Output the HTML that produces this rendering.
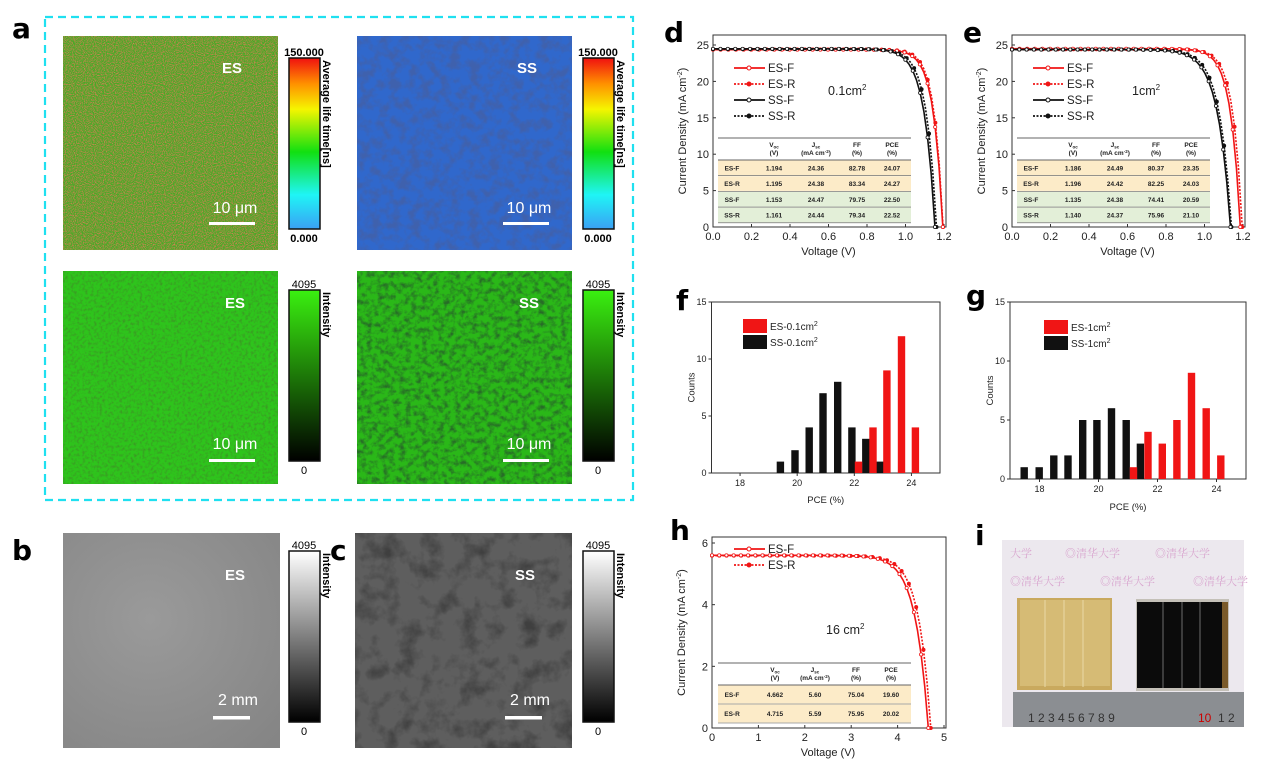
<!DOCTYPE html>
<html><head><meta charset="utf-8"><style>
html,body{margin:0;padding:0;background:#fff}
svg{display:block;font-family:"Liberation Sans",sans-serif}
.lbl{font-family:"DejaVu Sans","Liberation Sans",sans-serif;font-weight:bold;font-size:28px}
.t{font-size:11px;fill:#222}
.tb{font-size:6.5px;font-weight:bold;fill:#222}
</style></head><body>
<svg id="s" width="1271" height="771" viewBox="0 0 1271 771" xmlns="http://www.w3.org/2000/svg">
<defs>
<filter id="noiseR" x="0" y="0" width="1" height="1">
<feTurbulence type="fractalNoise" baseFrequency="0.9" numOctaves="2" seed="5" result="n"/>
<feColorMatrix in="n" type="matrix" values="0 0 0 0 0.75  0 0 0 0 0.2  0 0 0 0 0.1  2.6 0 0 0 -1.05"/>
</filter>
<filter id="noiseB" x="0" y="0" width="1" height="1">
<feTurbulence type="fractalNoise" baseFrequency="0.1" numOctaves="3" seed="7" result="n"/>
<feColorMatrix in="n" type="matrix" values="0 0 0 0 0.05  0 0 0 0 0.12  0 0 0 0 0.42  3.2 0 0 0 -1.3"/>
</filter>
<filter id="noiseG" x="0" y="0" width="1" height="1">
<feTurbulence type="fractalNoise" baseFrequency="0.35" numOctaves="2" seed="9" result="n"/>
<feColorMatrix in="n" type="matrix" values="0 0 0 0 0.05  0 0 0 0 0.25  0 0 0 0 0.02  1.8 0 0 0 -0.8"/>
</filter>
<filter id="noiseG2" x="0" y="0" width="1" height="1">
<feTurbulence type="fractalNoise" baseFrequency="0.18" numOctaves="3" seed="11" result="n"/>
<feColorMatrix in="n" type="matrix" values="0 0 0 0 0.02  0 0 0 0 0.15  0 0 0 0 0.02  2.4 0 0 0 -1.0"/>
</filter>
<filter id="noiseK" x="0" y="0" width="1" height="1">
<feTurbulence type="fractalNoise" baseFrequency="0.05" numOctaves="4" seed="13" result="n"/>
<feColorMatrix in="n" type="matrix" values="0 0 0 0 0.05  0 0 0 0 0.05  0 0 0 0 0.05  2.6 0 0 0 -1.2"/>
</filter>
<linearGradient id="jet" x1="0" y1="1" x2="0" y2="0">
<stop offset="0" stop-color="#3aa0f5"/><stop offset="0.2" stop-color="#1ff5f5"/><stop offset="0.45" stop-color="#11e011"/><stop offset="0.7" stop-color="#f5f500"/><stop offset="0.85" stop-color="#ff9000"/><stop offset="1" stop-color="#f01010"/>
</linearGradient>
<linearGradient id="grn" x1="0" y1="1" x2="0" y2="0"><stop offset="0" stop-color="#000"/><stop offset="1" stop-color="#3af010"/></linearGradient>
<linearGradient id="gry" x1="0" y1="1" x2="0" y2="0"><stop offset="0" stop-color="#000"/><stop offset="1" stop-color="#fff"/></linearGradient>
<radialGradient id="bg" cx="0.4" cy="0.4" r="0.8"><stop offset="0" stop-color="#9a9a9a"/><stop offset="1" stop-color="#858585"/></radialGradient>
</defs>

<text x="12" y="38" class="lbl">a</text>
<rect x="45" y="17" width="588" height="483" fill="none" stroke="#1fe0f0" stroke-width="2.2" stroke-dasharray="8,5"/>
<rect x="63" y="36" width="215" height="214" fill="#48aa26"/>
<rect x="63" y="36" width="215" height="214" filter="url(#noiseR)"/>
<text x="222" y="73" fill="#fff" font-weight="bold" font-size="15">ES</text>
<text x="235" y="213" fill="#fff" font-size="16" text-anchor="middle">10 μm</text>
<rect x="209" y="222" width="46" height="3" fill="#fff"/>
<rect x="357" y="36" width="215" height="214" fill="#3068cc"/>
<rect x="357" y="36" width="215" height="214" filter="url(#noiseB)"/>
<text x="517" y="73" fill="#fff" font-weight="bold" font-size="15">SS</text>
<text x="529" y="213" fill="#fff" font-size="16" text-anchor="middle">10 μm</text>
<rect x="503" y="222" width="46" height="3" fill="#fff"/>
<rect x="63" y="271" width="215" height="213" fill="#2ec41c"/>
<rect x="63" y="271" width="215" height="213" filter="url(#noiseG)"/>
<text x="225" y="308" fill="#fff" font-weight="bold" font-size="15">ES</text>
<text x="235" y="449" fill="#fff" font-size="16" text-anchor="middle">10 μm</text>
<rect x="209" y="459" width="46" height="3" fill="#fff"/>
<rect x="357" y="271" width="215" height="213" fill="#2ab818"/>
<rect x="357" y="271" width="215" height="213" filter="url(#noiseG2)"/>
<text x="519" y="308" fill="#fff" font-weight="bold" font-size="15">SS</text>
<text x="529" y="449" fill="#fff" font-size="16" text-anchor="middle">10 μm</text>
<rect x="503" y="459" width="46" height="3" fill="#fff"/>
<g id="cbars"></g>

<text x="12" y="560" class="lbl">b</text>
<rect x="63" y="533" width="217" height="215" fill="url(#bg)"/>
<text x="225" y="580" fill="#fff" font-weight="bold" font-size="15">ES</text>
<text x="238" y="705" fill="#fff" font-size="16" text-anchor="middle">2 mm</text>
<rect x="213" y="716" width="37" height="3.5" fill="#fff"/>
<text x="330" y="560" class="lbl">c</text>
<rect x="355" y="533" width="217" height="215" fill="#5e5e5e"/>
<rect x="355" y="533" width="217" height="215" filter="url(#noiseK)"/>
<text x="515" y="580" fill="#fff" font-weight="bold" font-size="15">SS</text>
<text x="530" y="705" fill="#fff" font-size="16" text-anchor="middle">2 mm</text>
<rect x="505" y="716" width="37" height="3.5" fill="#fff"/>

<text x="664" y="42" class="lbl">d</text>
<text x="963" y="42" class="lbl">e</text>
<text x="676" y="310" class="lbl">f</text>
<text x="966" y="305" class="lbl">g</text>
<text x="670" y="540" class="lbl">h</text>
<text x="975" y="545" class="lbl">i</text>

<g id="plots"></g>

<rect x="1002" y="540" width="242" height="187" fill="#ece8ee"/>
<g fill="#d9a6cf" font-size="11" font-family="'Noto Serif CJK SC',serif">
<text x="1010" y="557">大学</text><text x="1065" y="557">◎清华大学</text><text x="1155" y="557">◎清华大学</text>
<text x="1010" y="585">◎清华大学</text><text x="1100" y="585">◎清华大学</text><text x="1193" y="585">◎清华大学</text>
</g>
<rect x="1017" y="598" width="95" height="92" fill="#c9a95e"/>
<rect x="1020" y="600" width="90" height="86" fill="#d6bb75"/>
<g stroke="#e9d9a8" stroke-width="1"><line x1="1045" y1="600" x2="1045" y2="687"/><line x1="1064" y1="600" x2="1064" y2="687"/><line x1="1083" y1="600" x2="1083" y2="687"/></g>
<rect x="1136" y="599" width="93" height="92" fill="#c4c0b8"/>
<rect x="1137" y="602" width="85" height="86" fill="#0b0b0b"/>
<rect x="1222" y="602" width="6" height="86" fill="#7a5a2a"/>
<g stroke="#888" stroke-width="0.8"><line x1="1163" y1="602" x2="1163" y2="688"/><line x1="1182" y1="602" x2="1182" y2="688"/><line x1="1200" y1="602" x2="1200" y2="688"/></g>
<rect x="1013" y="692" width="231" height="35" fill="#8b8e92"/>
<g font-size="12" fill="#333"><text x="1028" y="722">1 2 3 4 5 6 7 8 9</text></g>
<text x="1198" y="722" font-size="12" fill="#c00">10</text><text x="1218" y="722" font-size="12" fill="#333">1 2</text>
</svg>
<script>
const NS="http://www.w3.org/2000/svg";
function el(p,tag,a,txt){const e=document.createElementNS(NS,tag);for(const k in a)e.setAttribute(k,a[k]);if(txt!==undefined)e.innerHTML=txt;p.appendChild(e);return e;}
const cb=document.getElementById('cbars');
function cbar(x,y,h,fill,top,bot,lab){
 el(cb,'rect',{x:x,y:y,width:31,height:h,fill:fill,stroke:'#111','stroke-width':1.5});
 el(cb,'text',{x:x+15,y:y-2,'font-size':11,'text-anchor':'middle','font-weight':top.length>5?'bold':'normal'},top);
 el(cb,'text',{x:x+15,y:y+h+13,'font-size':11,'text-anchor':'middle','font-weight':bot.length>1?'bold':'normal'},bot);
 el(cb,'text',{transform:`translate(${x+34},${y+2}) rotate(90)`,'font-size':11,'font-weight':'bold'},lab);
}
cbar(289,58,171,'url(#jet)','150.000','0.000','Average life time[ns]');
cbar(583,58,171,'url(#jet)','150.000','0.000','Average life time[ns]');
cbar(289,290,171,'url(#grn)','4095','0','Intensity');
cbar(583,290,171,'url(#grn)','4095','0','Intensity');
cbar(289,551,171,'url(#gry)','4095','0','Intensity');
cbar(583,551,171,'url(#gry)','4095','0','Intensity');

const P=document.getElementById('plots');
function frame(x0,y0,x1,y1){el(P,'rect',{x:x0,y:y0,width:x1-x0,height:y1-y0,fill:'none',stroke:'#333','stroke-width':1});}
function jv(o){
 const {X0,X1,Y0,Y1,xmax,ymax,top,xt,yt,curves}=o;
 frame(X0,top,X1+2,Y0);
 const sx=v=>X0+(v/xmax)*(X1-X0), sy=j=>Y0-(j/ymax)*(Y0-Y1);
 xt.forEach(v=>{el(P,'line',{x1:sx(v),x2:sx(v),y1:Y0,y2:Y0-3,stroke:'#333'});el(P,'text',{x:sx(v),y:Y0+13,'text-anchor':'middle',class:'t'},o.xf(v));});
 yt.forEach(v=>{el(P,'line',{x1:X0,x2:X0+3,y1:sy(v),y2:sy(v),stroke:'#333'});el(P,'text',{x:X0-4,y:sy(v)+4,'text-anchor':'end',class:'t'},v);});
 curves.forEach(c=>{
  let pts=[];const N=60;
  for(let i=0;i<=N;i++){const v=c.voc*i/N; let j=c.jsc*(1-Math.exp((v-c.voc)/c.a))/(1-Math.exp(-c.voc/c.a)); pts.push([sx(v),sy(Math.max(j,0))]);}
  el(P,'polyline',{points:pts.map(p=>p.join(',')).join(' '),fill:'none',stroke:c.col,'stroke-width':1.6,'stroke-dasharray':c.dash?'2,1.5':''});
  pts.forEach((p,i)=>{if(i%2==0)el(P,'circle',{cx:p[0],cy:p[1],r:1.6,fill:c.dash?c.col:'#fff',stroke:c.col,'stroke-width':0.8});});
 });
 o.leg.forEach((l,i)=>{const y=o.ly+i*16;el(P,'line',{x1:o.lx,x2:o.lx+31,y1:y,y2:y,stroke:l[1],'stroke-width':1.8,'stroke-dasharray':l[2]?'2,1.5':''});el(P,'circle',{cx:o.lx+15,cy:y,r:2,fill:l[2]?l[1]:'#fff',stroke:l[1]});el(P,'text',{x:o.lx+34,y:y+4,'font-size':11.5,fill:'#222'},l[0]);});
 el(P,'text',{x:o.ax,y:o.ay,'font-size':12.5,fill:'#222'},o.area);
 el(P,'text',{transform:`translate(${X0-27},${(top+Y0)/2}) rotate(-90)`,'text-anchor':'middle',class:'t'},'Current Density (mA cm<tspan dy="-4" font-size="7">-2</tspan><tspan dy="4">)</tspan>');
 el(P,'text',{x:(X0+X1)/2,y:Y0+28,'text-anchor':'middle',class:'t'},'Voltage (V)');
 const T=o.tab, tx0=T.x0, tx1=T.x1;
 el(P,'line',{x1:tx0,x2:tx1,y1:T.y,y2:T.y,stroke:'#333','stroke-width':0.8});
 const cx=T.cx;
 el(P,'text',{x:cx[1],y:T.y+9,'text-anchor':'middle',class:'tb'},'V<tspan font-size="4.5" dy="1.5">oc</tspan>');
 el(P,'text',{x:cx[1],y:T.y+17,'text-anchor':'middle',class:'tb'},'(V)');
 el(P,'text',{x:cx[2],y:T.y+9,'text-anchor':'middle',class:'tb'},'J<tspan font-size="4.5" dy="1.5">sc</tspan>');
 el(P,'text',{x:cx[2],y:T.y+17,'text-anchor':'middle',class:'tb'},'(mA cm<tspan font-size="4.5" dy="-2">-2</tspan><tspan dy="2">)</tspan>');
 el(P,'text',{x:cx[3],y:T.y+9,'text-anchor':'middle',class:'tb'},'FF');
 el(P,'text',{x:cx[3],y:T.y+17,'text-anchor':'middle',class:'tb'},'(%)');
 el(P,'text',{x:cx[4],y:T.y+9,'text-anchor':'middle',class:'tb'},'PCE');
 el(P,'text',{x:cx[4],y:T.y+17,'text-anchor':'middle',class:'tb'},'(%)');
 let y=T.y+T.hh;
 el(P,'line',{x1:tx0,x2:tx1,y1:y,y2:y,stroke:'#333','stroke-width':0.8});
 T.rows.forEach(r=>{el(P,'rect',{x:tx0,y:y+0.5,width:tx1-tx0,height:T.rh-1,fill:r[0]});
  r.slice(1).forEach((s,k)=>el(P,'text',{x:cx[k],y:y+T.rh/2+2.5,'text-anchor':'middle',class:'tb'},s));
  y+=T.rh; el(P,'line',{x1:tx0,x2:tx1,y1:y,y2:y,stroke:'#555','stroke-width':0.6});});
}
const Y='#fcebc8',G='#e3efd8',R='#f01515',K='#111';
const f1=v=>v.toFixed(1);
jv({X0:713,X1:944,Y0:227,Y1:45,top:35,xmax:1.2,ymax:25,xt:[0,0.2,0.4,0.6,0.8,1.0,1.2],yt:[0,5,10,15,20,25],xf:f1,
 curves:[{voc:1.195,jsc:24.38,a:0.045,col:R,dash:1},{voc:1.194,jsc:24.36,a:0.048,col:R},{voc:1.161,jsc:24.44,a:0.052,col:K,dash:1},{voc:1.153,jsc:24.47,a:0.055,col:K}],
 leg:[['ES-F',R,0],['ES-R',R,1],['SS-F',K,0],['SS-R',K,1]],lx:734,ly:68,ax:828,ay:95,area:'0.1cm<tspan dy="-5" font-size="8">2</tspan>',
 tab:{x0:718,x1:911,y:138,hh:22,rh:15.7,cx:[732,774,816,857,892],rows:[[Y,'ES-F','1.194','24.36','82.78','24.07'],[Y,'ES-R','1.195','24.38','83.34','24.27'],[G,'SS-F','1.153','24.47','79.75','22.50'],[G,'SS-R','1.161','24.44','79.34','22.52']]}});
jv({X0:1012,X1:1243,Y0:227,Y1:45,top:35,xmax:1.2,ymax:25,xt:[0,0.2,0.4,0.6,0.8,1.0,1.2],yt:[0,5,10,15,20,25],xf:f1,
 curves:[{voc:1.196,jsc:24.42,a:0.048,col:R,dash:1},{voc:1.186,jsc:24.49,a:0.05,col:R},{voc:1.140,jsc:24.37,a:0.062,col:K,dash:1},{voc:1.135,jsc:24.38,a:0.066,col:K}],
 leg:[['ES-F',R,0],['ES-R',R,1],['SS-F',K,0],['SS-R',K,1]],lx:1033,ly:68,ax:1132,ay:95,area:'1cm<tspan dy="-5" font-size="8">2</tspan>',
 tab:{x0:1017,x1:1210,y:138,hh:22,rh:15.7,cx:[1031,1073,1115,1156,1191],rows:[[Y,'ES-F','1.186','24.49','80.37','23.35'],[Y,'ES-R','1.196','24.42','82.25','24.03'],[G,'SS-F','1.135','24.38','74.41','20.59'],[G,'SS-R','1.140','24.37','75.96','21.10']]}});
jv({X0:712,X1:944,Y0:728,Y1:543,top:537,xmax:5,ymax:6,xt:[0,1,2,3,4,5],yt:[0,2,4,6],xf:v=>v,
 curves:[{voc:4.715,jsc:5.59,a:0.26,col:R,dash:1},{voc:4.662,jsc:5.60,a:0.28,col:R}],
 leg:[['ES-F',R,0],['ES-R',R,1]],lx:734,ly:549,ax:826,ay:634,area:'16 cm<tspan dy="-5" font-size="8">2</tspan>',
 tab:{x0:718,x1:911,y:663,hh:22,rh:19,cx:[732,775,815,856,891],rows:[[Y,'ES-F','4.662','5.60','75.04','19.60'],[Y,'ES-R','4.715','5.59','75.95','20.02']]}});

function hist(o){
 const {X0,X1,Y0,Y1}=o; frame(X0,Y1,X1,Y0);
 const sx=v=>X0+(v-17)/8*(X1-X0), sy=c=>Y0-c/15*(Y0-Y1);
 [18,20,22,24].forEach(v=>{el(P,'line',{x1:sx(v),x2:sx(v),y1:Y0,y2:Y0+3,stroke:'#333'});el(P,'text',{x:sx(v),y:Y0+13,'text-anchor':'middle','font-size':9,fill:'#222'},v);});
 [0,5,10,15].forEach(v=>{el(P,'line',{x1:X0,x2:X0-3,y1:sy(v),y2:sy(v),stroke:'#333'});el(P,'text',{x:X0-5,y:sy(v)+3,'text-anchor':'end','font-size':9,fill:'#222'},v);});
 o.bars.forEach(b=>el(P,'rect',{x:b[0]-3.7,y:sy(b[1]),width:7.4,height:b[1]/15*(Y0-Y1),fill:b[2]}));
 el(P,'rect',{x:o.lx,y:o.ly,width:24,height:14,fill:R});el(P,'rect',{x:o.lx,y:o.ly+16,width:24,height:14,fill:K});
 el(P,'text',{x:o.lx+27,y:o.ly+11,'font-size':10,fill:'#222'},o.l1+'<tspan dy="-4" font-size="7">2</tspan>');
 el(P,'text',{x:o.lx+27,y:o.ly+27,'font-size':10,fill:'#222'},o.l2+'<tspan dy="-4" font-size="7">2</tspan>');
 el(P,'text',{transform:`translate(${X0-17},${(Y0+Y1)/2}) rotate(-90)`,'text-anchor':'middle','font-size':9.5,fill:'#222'},'Counts');
 el(P,'text',{x:(X0+X1)/2,y:o.py,'text-anchor':'middle','font-size':9.5,fill:'#222'},'PCE (%)');
}
const fb=[[780.4,1],[795,2],[809.2,4],[823,7],[837.7,8],[851.9,4],[865.8,3],[880,1]].map(b=>[b[0],b[1],K]).concat([[858.5,1],[873,4],[886.9,9],[901.5,12],[915.4,4]].map(b=>[b[0],b[1],R]));
hist({X0:711.5,X1:940,Y0:473,Y1:302,bars:fb,lx:743,ly:319,l1:'ES-0.1cm',l2:'SS-0.1cm',py:503});
const gb=[[1024.2,1],[1039.2,1],[1053.8,2],[1068,2],[1082.7,5],[1096.9,5],[1111.5,6],[1126.2,5],[1140.4,3]].map(b=>[b[0],b[1],K]).concat([[1133.5,1],[1148,4],[1162.3,3],[1176.9,5],[1191.5,9],[1206.2,6],[1220.8,2]].map(b=>[b[0],b[1],R]));
hist({X0:1010,X1:1246,Y0:479,Y1:302,bars:gb,lx:1044,ly:320,l1:'ES-1cm',l2:'SS-1cm',py:510});
</script>
</body></html>
